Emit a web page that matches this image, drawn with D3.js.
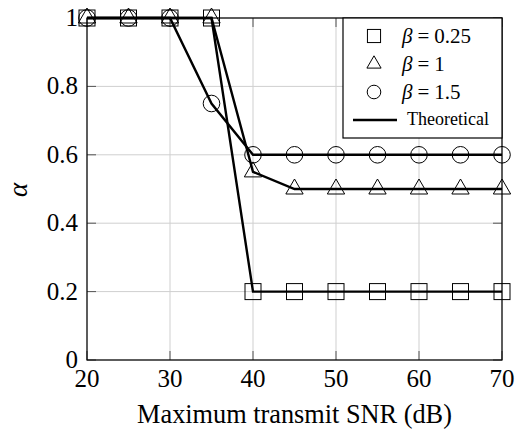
<!DOCTYPE html>
<html>
<head>
<meta charset="utf-8">
<script src="https://cdn.jsdelivr.net/npm/d3@7"></script>
<style>
  body { margin: 0; background: #fff; }
</style>
</head>
<body>
<div id="chart"></div>
<script>
var snr = [20, 25, 30, 35, 40, 45, 50, 55, 60, 65, 70]
var alphaB025 = [1, 1, 1, 1, 0.2, 0.2, 0.2, 0.2, 0.2, 0.2, 0.2]
var alphaB1 = [1, 1, 1, 1, 0.55, 0.5, 0.5, 0.5, 0.5, 0.5, 0.5]
var alphaB15 = [1, 1, 1, 0.75, 0.6, 0.6, 0.6, 0.6, 0.6, 0.6, 0.6]
var xTicks = [20, 30, 40, 50, 60, 70]
var yTicks = [0, 0.2, 0.4, 0.6, 0.8, 1]
var yTickLabels = ['0', '0.2', '0.4', '0.6', '0.8', '1']

var width = 521
var height = 430
var margin = {left: 87, top: 18, right: 19, bottom: 70}
var serif = "'Liberation Serif'"

var svg = d3.select('#chart').append('svg')
  .attr('width', width)
  .attr('height', height)

var x = d3.scaleLinear().domain([20, 70]).range([margin.left, width - margin.right])
var y = d3.scaleLinear().domain([0, 1]).range([height - margin.bottom, margin.top])

// grid
var grid = svg.append('g')
grid.selectAll('line.gx').data(xTicks).join('line')
  .attr('x1', d => x(d)).attr('x2', d => x(d))
  .attr('y1', y(0)).attr('y2', y(1))
  .attr('stroke', '#cfcfcf').attr('stroke-width', 1)
grid.selectAll('line.gy').data(yTicks).join('line')
  .attr('y1', d => y(d)).attr('y2', d => y(d))
  .attr('x1', x(20)).attr('x2', x(70))
  .attr('stroke', '#cfcfcf').attr('stroke-width', 1)

// inner ticks on all four sides
var tl = 9
var ticks = svg.append('g').attr('stroke', '#555').attr('stroke-width', 1)
xTicks.forEach(d => {
  ticks.append('line').attr('x1', x(d)).attr('x2', x(d)).attr('y1', y(0)).attr('y2', y(0) - tl)
  ticks.append('line').attr('x1', x(d)).attr('x2', x(d)).attr('y1', y(1)).attr('y2', y(1) + tl)
})
yTicks.forEach(d => {
  ticks.append('line').attr('y1', y(d)).attr('y2', y(d)).attr('x1', x(20)).attr('x2', x(20) + tl)
  ticks.append('line').attr('y1', y(d)).attr('y2', y(d)).attr('x1', x(70)).attr('x2', x(70) - tl)
})

// frame
svg.append('rect')
  .attr('x', x(20)).attr('y', y(1))
  .attr('width', x(70) - x(20)).attr('height', y(0) - y(1))
  .attr('fill', 'none').attr('stroke', '#000').attr('stroke-width', 1.2)

// tick labels
svg.append('g').selectAll('text').data(xTicks).join('text')
  .attr('x', d => x(d)).attr('y', y(0) + 27)
  .attr('text-anchor', 'middle')
  .style('font-family', serif).style('font-size', '25px')
  .text(d => d)
svg.append('g').selectAll('text').data(yTicks).join('text')
  .attr('x', x(20) - 9).attr('y', d => y(d) + 8)
  .attr('text-anchor', 'end')
  .style('font-family', serif).style('font-size', '25px')
  .text((d, i) => yTickLabels[i])

// axis titles
svg.append('text')
  .attr('x', (x(20) + x(70)) / 2).attr('y', 423)
  .attr('text-anchor', 'middle')
  .style('font-family', serif).style('font-size', '26.3px')
  .text('Maximum transmit SNR (dB)')
svg.append('text')
  .attr('transform', 'translate(27,' + (y(0.5) + 1) + ') rotate(-90)')
  .attr('text-anchor', 'middle')
  .style('font-family', serif).style('font-size', '27px').style('font-style', 'italic')
  .text('α')

var series = [
  {name: '0.25', values: alphaB025, shape: 'square'},
  {name: '1', values: alphaB1, shape: 'triangle'},
  {name: '1.5', values: alphaB15, shape: 'circle'}
]

var line = d3.line().x(d => x(d[0])).y(d => y(d[1]))

svg.append('g').selectAll('path').data(series).join('path')
  .attr('d', s => line(snr.map((v, i) => [v, s.values[i]])))
  .attr('fill', 'none').attr('stroke', '#000').attr('stroke-width', 2.4)

function drawMarker(g, shape, cx, cy, k) {
  if (shape == 'square') {
    g.append('rect').attr('x', cx - 8 * k).attr('y', cy - 8 * k).attr('width', 16 * k).attr('height', 16 * k)
  } else if (shape == 'circle') {
    g.append('circle').attr('cx', cx).attr('cy', cy).attr('r', 8.3 * k)
  } else {
    var r = 10 * k
    g.append('path').attr('d', d3.line()([
      [cx, cy - r], [cx + r * 0.866, cy + r * 0.5], [cx - r * 0.866, cy + r * 0.5]
    ]) + 'Z')
  }
}

var markers = svg.append('g').attr('fill', 'none').attr('stroke', '#000').attr('stroke-width', 1)
series.forEach(s => {
  snr.forEach((v, i) => drawMarker(markers, s.shape, x(v), y(s.values[i]), 1))
})

// legend
var leg = svg.append('g').attr('transform', 'translate(343,' + y(1) + ')')
leg.append('rect').attr('width', x(70) - 343).attr('height', 120)
  .attr('fill', '#fff').attr('stroke', '#000').attr('stroke-width', 1.2)
var legMarks = leg.append('g').attr('fill', 'none').attr('stroke', '#000').attr('stroke-width', 1)
series.forEach((s, i) => {
  var cy = 18 + i * 28
  drawMarker(legMarks, s.shape, 31, cy, 0.82)
  var t = leg.append('text').attr('x', 59).attr('y', cy + 7)
    .style('font-family', serif).style('font-size', '21px')
  t.append('tspan').style('font-style', 'italic').text('β')
  t.append('tspan').attr('dx', 5).text('=')
  t.append('tspan').attr('dx', 5).text(s.name)
})
leg.append('line').attr('x1', 10).attr('x2', 54).attr('y1', 102).attr('y2', 102)
  .attr('stroke', '#000').attr('stroke-width', 2.4)
leg.append('text').attr('x', 64).attr('y', 107)
  .style('font-family', serif).style('font-size', '18px').text('Theoretical')
</script>
</body>
</html>
